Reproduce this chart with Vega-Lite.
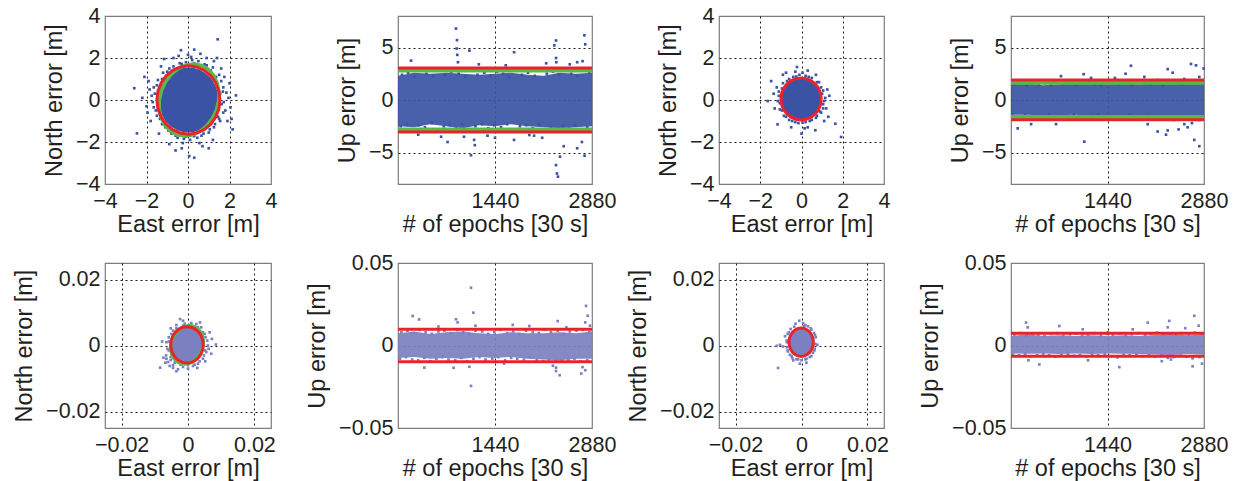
{
"$schema":"https://vega.github.io/schema/vega-lite/v6.json",
"padding":{"left":11,"top":4,"right":5,"bottom":2},
"config":{
 "font":"Liberation Sans",
 "view":{"stroke":"#7d7d7d","strokeWidth":1.2},
 "axis":{"labelFontSize":21.5,"titleFontSize":23.5,"labelColor":"#231f20","titleColor":"#231f20","titleFontWeight":"normal","ticks":false,"tickSize":0,"domain":false,"gridColor":"#1a1a1a","gridDash":[2,3],"gridWidth":1,"labelFlush":false,"labelOverlap":false,"labelFont":"Liberation Sans","titleFont":"Liberation Sans"},
 "axisX":{"labelPadding":6,"titlePadding":1},
 "axisY":{"labelPadding":5,"titlePadding":9}
},
"datasets":{
"c1":[{"x":-1.43,"y":0,"y2":0},{"x":-1.376,"y":0.419,"y2":-0.419},{"x":-1.269,"y":0.71,"y2":-0.71},{"x":-1.054,"y":1.042,"y2":-1.042},{"x":-0.786,"y":1.288,"y2":-1.288},{"x":-0.517,"y":1.44,"y2":-1.44},{"x":-0.248,"y":1.524,"y2":-1.524},{"x":0.02,"y":1.55,"y2":-1.55},{"x":0.288,"y":1.524,"y2":-1.524},{"x":0.557,"y":1.44,"y2":-1.44},{"x":0.826,"y":1.288,"y2":-1.288},{"x":1.094,"y":1.042,"y2":-1.042},{"x":1.309,"y":0.71,"y2":-0.71},{"x":1.416,"y":0.419,"y2":-0.419},{"x":1.47,"y":0,"y2":0}],
"s1":[{"x":1.55,"y":0.3},{"x":1.62,"y":-0.2},{"x":1.7,"y":0.6},{"x":1.45,"y":-0.8},{"x":1.8,"y":-0.5},{"x":1.35,"y":1.1},{"x":1.1,"y":1.4},{"x":0.8,"y":1.7},{"x":0.5,"y":1.85},{"x":0.2,"y":1.9},{"x":-0.1,"y":1.8},{"x":-0.4,"y":1.75},{"x":-0.7,"y":1.6},{"x":-1.0,"y":1.35},{"x":-1.25,"y":1.0},{"x":-1.5,"y":0.7},{"x":-1.6,"y":0.3},{"x":-1.7,"y":-0.1},{"x":-1.55,"y":-0.5},{"x":-1.35,"y":-0.9},{"x":-1.1,"y":-1.3},{"x":-0.8,"y":-1.6},{"x":-0.5,"y":-1.8},{"x":-0.2,"y":-1.85},{"x":0.1,"y":-1.9},{"x":0.45,"y":-1.8},{"x":0.75,"y":-1.6},{"x":1.05,"y":-1.4},{"x":1.3,"y":-1.15},{"x":1.5,"y":-0.9},{"x":2.0,"y":0.8},{"x":1.9,"y":-1.0},{"x":2.15,"y":-1.4},{"x":2.31,"y":0.22},{"x":1.6,"y":1.5},{"x":1.25,"y":1.85},{"x":0.6,"y":2.2},{"x":0.3,"y":2.4},{"x":-0.34,"y":2.37},{"x":-0.7,"y":2.0},{"x":-1.3,"y":1.6},{"x":-1.9,"y":0.9},{"x":-2.59,"y":0.56},{"x":-2.0,"y":-0.3},{"x":-1.8,"y":-1.0},{"x":-2.46,"y":-1.59},{"x":-1.4,"y":-1.6},{"x":-0.9,"y":-2.1},{"x":-0.3,"y":-2.3},{"x":0.06,"y":-2.67},{"x":0.3,"y":-2.75},{"x":0.7,"y":-2.2},{"x":1.2,"y":-1.9},{"x":1.43,"y":2.89},{"x":-1.15,"y":1.95},{"x":1.75,"y":1.1},{"x":0.9,"y":2.0},{"x":-2.2,"y":0.1},{"x":2.05,"y":-0.35},{"x":0.0,"y":2.15},{"x":-0.6,"y":-2.4},{"x":1.0,"y":-2.3},{"x":-1.85,"y":0.5},{"x":1.85,"y":0.35},{"x":1.6,"y":0.9},{"x":1.5,"y":1.2},{"x":1.2,"y":1.55},{"x":0.9,"y":1.65},{"x":0.3,"y":1.75},{"x":-0.3,"y":1.72},{"x":-0.9,"y":1.5},{"x":-1.2,"y":1.3},{"x":-1.45,"y":0.95},{"x":-1.65,"y":0.6},{"x":-1.75,"y":0.2},{"x":-1.65,"y":-0.35},{"x":-1.5,"y":-0.75},{"x":-1.25,"y":-1.15},{"x":-0.95,"y":-1.45},{"x":-0.6,"y":-1.7},{"x":-0.1,"y":-1.75},{"x":0.3,"y":-1.72},{"x":0.65,"y":-1.7},{"x":1.0,"y":-1.55},{"x":1.25,"y":-1.3},{"x":1.55,"y":-1.0},{"x":1.7,"y":-0.6},{"x":1.72,"y":-0.1},{"x":1.68,"y":0.4},{"x":1.95,"y":0.1},{"x":-1.95,"y":-0.6},{"x":0.15,"y":2.05},{"x":-0.25,"y":-2.05},{"x":2.1,"y":-0.9},{"x":-2.1,"y":1.1},{"x":1.4,"y":2.0},{"x":-0.45,"y":2.1},{"x":0.55,"y":-2.05}],
"g1":[{"i":0,"x":1.366,"y":-0.479},{"i":1,"x":1.476,"y":-0.037},{"i":2,"x":1.49,"y":0.408},{"i":3,"x":1.403,"y":0.824},{"i":4,"x":1.227,"y":1.185},{"i":5,"x":0.97,"y":1.465},{"i":6,"x":0.649,"y":1.645},{"i":7,"x":0.288,"y":1.713},{"i":8,"x":-0.089,"y":1.665},{"i":9,"x":-0.457,"y":1.502},{"i":10,"x":-0.79,"y":1.238},{"i":11,"x":-1.066,"y":0.889},{"i":12,"x":-1.266,"y":0.479},{"i":13,"x":-1.376,"y":0.037},{"i":14,"x":-1.39,"y":-0.408},{"i":15,"x":-1.303,"y":-0.824},{"i":16,"x":-1.127,"y":-1.185},{"i":17,"x":-0.87,"y":-1.465},{"i":18,"x":-0.549,"y":-1.645},{"i":19,"x":-0.188,"y":-1.713},{"i":20,"x":0.189,"y":-1.665},{"i":21,"x":0.557,"y":-1.502},{"i":22,"x":0.89,"y":-1.238},{"i":23,"x":1.166,"y":-0.889},{"i":24,"x":1.366,"y":-0.479}],
"r1":[{"i":0,"x":1.54,"y":0},{"i":1,"x":1.488,"y":0.422},{"i":2,"x":1.336,"y":0.815},{"i":3,"x":1.095,"y":1.152},{"i":4,"x":0.78,"y":1.412},{"i":5,"x":0.414,"y":1.575},{"i":6,"x":0.02,"y":1.63},{"i":7,"x":-0.374,"y":1.575},{"i":8,"x":-0.74,"y":1.412},{"i":9,"x":-1.055,"y":1.152},{"i":10,"x":-1.296,"y":0.815},{"i":11,"x":-1.448,"y":0.422},{"i":12,"x":-1.5,"y":0},{"i":13,"x":-1.448,"y":-0.422},{"i":14,"x":-1.296,"y":-0.815},{"i":15,"x":-1.055,"y":-1.152},{"i":16,"x":-0.74,"y":-1.412},{"i":17,"x":-0.374,"y":-1.575},{"i":18,"x":0.02,"y":-1.63},{"i":19,"x":0.414,"y":-1.575},{"i":20,"x":0.78,"y":-1.412},{"i":21,"x":1.095,"y":-1.152},{"i":22,"x":1.336,"y":-0.815},{"i":23,"x":1.488,"y":-0.422},{"i":24,"x":1.54,"y":0}],
"b2":[{"x":0,"y":2.3,"y2":-2.5},{"x":240,"y":2.6,"y2":-2.6},{"x":480,"y":2.5,"y2":-2.3},{"x":720,"y":2.6,"y2":-2.5},{"x":960,"y":2.5,"y2":-2.7},{"x":1200,"y":2.4,"y2":-2.4},{"x":1440,"y":2.5,"y2":-2.5},{"x":1680,"y":2.6,"y2":-2.3},{"x":1920,"y":2.4,"y2":-2.5},{"x":2160,"y":2.3,"y2":-2.6},{"x":2400,"y":2.6,"y2":-2.7},{"x":2640,"y":2.5,"y2":-2.6},{"x":2880,"y":2.6,"y2":-2.5}],
"s2":[{"x":861,"y":6.8},{"x":876,"y":5.7},{"x":870,"y":4.9},{"x":880,"y":4.3},{"x":890,"y":3.6},{"x":1060,"y":4.7},{"x":1084,"y":-5.26},{"x":1130,"y":-3.8},{"x":1140,"y":-4.3},{"x":1723,"y":4.55},{"x":2346,"y":5.67},{"x":2320,"y":5.2},{"x":2346,"y":4.0},{"x":2350,"y":3.6},{"x":2346,"y":-6.2},{"x":2360,"y":-7.0},{"x":2375,"y":-7.3},{"x":2405,"y":-5.4},{"x":2767,"y":6.16},{"x":2780,"y":5.3},{"x":2740,"y":3.7},{"x":2770,"y":-5.3},{"x":2730,"y":-4.0},{"x":2750,"y":-3.0},{"x":193,"y":3.75},{"x":2660,"y":3.6},{"x":1950,"y":-3.33},{"x":2140,"y":-3.6},{"x":2460,"y":-4.4},{"x":2660,"y":-4.6},{"x":640,"y":-3.5},{"x":736,"y":-4.0},{"x":1329,"y":-3.4},{"x":1440,"y":-3.6},{"x":1723,"y":-3.8},{"x":1200,"y":3.4},{"x":1600,"y":3.3},{"x":2200,"y":3.5},{"x":2550,"y":3.4},{"x":300,"y":-3.3},{"x":980,"y":-3.5},{"x":2020,"y":-3.4},{"x":60,"y":2.4},{"x":150,"y":2.6},{"x":250,"y":2.2},{"x":330,"y":2.8},{"x":420,"y":2.5},{"x":520,"y":2.3},{"x":610,"y":2.9},{"x":700,"y":2.4},{"x":790,"y":2.7},{"x":900,"y":2.5},{"x":1000,"y":2.2},{"x":1100,"y":2.8},{"x":1180,"y":2.4},{"x":1280,"y":2.6},{"x":1370,"y":2.3},{"x":1470,"y":2.7},{"x":1560,"y":2.5},{"x":1650,"y":2.2},{"x":1750,"y":2.9},{"x":1840,"y":2.4},{"x":1930,"y":2.6},{"x":2030,"y":2.3},{"x":2120,"y":2.8},{"x":2210,"y":2.5},{"x":2300,"y":2.7},{"x":2390,"y":2.4},{"x":2480,"y":2.9},{"x":2570,"y":2.5},{"x":2660,"y":2.3},{"x":2750,"y":2.8},{"x":2840,"y":2.6},{"x":40,"y":-2.5},{"x":130,"y":-2.3},{"x":230,"y":-2.8},{"x":310,"y":-2.4},{"x":400,"y":-2.6},{"x":500,"y":-2.2},{"x":590,"y":-2.9},{"x":680,"y":-2.5},{"x":770,"y":-2.4},{"x":860,"y":-2.7},{"x":950,"y":-2.3},{"x":1050,"y":-2.8},{"x":1150,"y":-2.5},{"x":1250,"y":-2.3},{"x":1340,"y":-2.7},{"x":1430,"y":-2.4},{"x":1530,"y":-2.6},{"x":1620,"y":-2.3},{"x":1720,"y":-2.8},{"x":1810,"y":-2.5},{"x":1900,"y":-2.4},{"x":2000,"y":-2.7},{"x":2090,"y":-2.3},{"x":2180,"y":-2.9},{"x":2270,"y":-2.6},{"x":2360,"y":-2.8},{"x":2450,"y":-2.5},{"x":2540,"y":-2.7},{"x":2630,"y":-2.4},{"x":2720,"y":-2.9},{"x":2810,"y":-2.6}],
"h2":[{"x":0,"x2":2880,"y":2.8,"c":"g"},{"x":0,"x2":2880,"y":-2.8,"c":"g"},{"x":0,"x2":2880,"y":3.05,"c":"r"},{"x":0,"x2":2880,"y":-3.05,"c":"r"}],
"c3":[{"x":-0.97,"y":0.05,"y2":0.05},{"x":-0.935,"y":0.312,"y2":-0.212},{"x":-0.865,"y":0.494,"y2":-0.394},{"x":-0.724,"y":0.702,"y2":-0.602},{"x":-0.548,"y":0.856,"y2":-0.756},{"x":-0.371,"y":0.951,"y2":-0.851},{"x":-0.196,"y":1.004,"y2":-0.904},{"x":-0.02,"y":1.02,"y2":-0.92},{"x":0.156,"y":1.004,"y2":-0.904},{"x":0.331,"y":0.951,"y2":-0.851},{"x":0.508,"y":0.856,"y2":-0.756},{"x":0.684,"y":0.702,"y2":-0.602},{"x":0.825,"y":0.494,"y2":-0.394},{"x":0.895,"y":0.312,"y2":-0.212},{"x":0.93,"y":0.05,"y2":0.05}],
"s3":[{"x":1.0,"y":0.3},{"x":1.05,"y":-0.2},{"x":0.95,"y":0.6},{"x":0.9,"y":-0.55},{"x":1.2,"y":-0.4},{"x":1.15,"y":0.1},{"x":0.75,"y":0.85},{"x":0.5,"y":1.05},{"x":0.2,"y":1.15},{"x":-0.1,"y":1.2},{"x":-0.4,"y":1.1},{"x":-0.7,"y":0.9},{"x":-0.95,"y":0.55},{"x":-1.1,"y":0.2},{"x":-1.05,"y":-0.15},{"x":-0.95,"y":-0.5},{"x":-0.75,"y":-0.8},{"x":-0.45,"y":-1.0},{"x":-0.15,"y":-1.1},{"x":0.2,"y":-1.05},{"x":0.5,"y":-0.95},{"x":0.75,"y":-0.75},{"x":-1.47,"y":0.9},{"x":-0.22,"y":1.57},{"x":0.0,"y":-1.6},{"x":0.67,"y":-1.44},{"x":-1.16,"y":-1.16},{"x":1.64,"y":-1.13},{"x":1.92,"y":-1.76},{"x":-1.64,"y":-0.05},{"x":-1.2,"y":0.6},{"x":0.3,"y":1.4},{"x":0.7,"y":1.2},{"x":1.3,"y":-0.8},{"x":1.25,"y":0.5},{"x":-0.5,"y":-1.3},{"x":0.3,"y":-1.3},{"x":-0.9,"y":1.2},{"x":-1.3,"y":-0.4},{"x":1.1,"y":-1.0},{"x":-0.3,"y":1.35},{"x":0.05,"y":1.3},{"x":1.05,"y":0.45},{"x":1.1,"y":-0.05},{"x":1.05,"y":-0.4},{"x":0.85,"y":0.85},{"x":0.35,"y":1.1},{"x":-0.25,"y":1.12},{"x":-0.6,"y":1.0},{"x":-0.9,"y":0.8},{"x":-1.1,"y":0.4},{"x":-1.15,"y":-0.05},{"x":-1.05,"y":-0.45},{"x":-0.85,"y":-0.75},{"x":-0.6,"y":-0.95},{"x":-0.3,"y":-1.05},{"x":0.05,"y":-1.08},{"x":0.4,"y":-1.0},{"x":0.7,"y":-0.85},{"x":0.95,"y":-0.6},{"x":-1.35,"y":0.3},{"x":1.35,"y":0.2},{"x":0.15,"y":-1.35},{"x":-0.75,"y":1.3}],
"r3":[{"i":0,"x":0.96,"y":0.05},{"i":1,"x":0.927,"y":0.309},{"i":2,"x":0.829,"y":0.55},{"i":3,"x":0.673,"y":0.757},{"i":4,"x":0.47,"y":0.916},{"i":5,"x":0.234,"y":1.016},{"i":6,"x":-0.02,"y":1.05},{"i":7,"x":-0.274,"y":1.016},{"i":8,"x":-0.51,"y":0.916},{"i":9,"x":-0.713,"y":0.757},{"i":10,"x":-0.869,"y":0.55},{"i":11,"x":-0.967,"y":0.309},{"i":12,"x":-1.0,"y":0.05},{"i":13,"x":-0.967,"y":-0.209},{"i":14,"x":-0.869,"y":-0.45},{"i":15,"x":-0.713,"y":-0.657},{"i":16,"x":-0.51,"y":-0.816},{"i":17,"x":-0.274,"y":-0.916},{"i":18,"x":-0.02,"y":-0.95},{"i":19,"x":0.234,"y":-0.916},{"i":20,"x":0.47,"y":-0.816},{"i":21,"x":0.673,"y":-0.657},{"i":22,"x":0.829,"y":-0.45},{"i":23,"x":0.927,"y":-0.209},{"i":24,"x":0.96,"y":0.05}],
"b4":[{"x":0,"y":1.5,"y2":-1.4},{"x":240,"y":1.6,"y2":-1.4},{"x":480,"y":1.4,"y2":-1.5},{"x":720,"y":1.5,"y2":-1.45},{"x":960,"y":1.55,"y2":-1.4},{"x":1200,"y":1.6,"y2":-1.5},{"x":1440,"y":1.5,"y2":-1.55},{"x":1680,"y":1.55,"y2":-1.45},{"x":1920,"y":1.5,"y2":-1.5},{"x":2160,"y":1.6,"y2":-1.6},{"x":2400,"y":1.65,"y2":-1.55},{"x":2640,"y":1.55,"y2":-1.6},{"x":2880,"y":1.6,"y2":-1.55}],
"s4":[{"x":1790,"y":3.26},{"x":1710,"y":2.5},{"x":1084,"y":2.46},{"x":1195,"y":2.1},{"x":746,"y":2.27},{"x":2338,"y":2.94},{"x":2412,"y":2.6},{"x":2686,"y":3.43},{"x":2760,"y":3.3},{"x":2874,"y":3.0},{"x":1094,"y":-3.97},{"x":2188,"y":-3.0},{"x":2313,"y":-3.3},{"x":2338,"y":-2.9},{"x":2810,"y":-4.4},{"x":2735,"y":-3.8},{"x":100,"y":-2.7},{"x":300,"y":-2.3},{"x":672,"y":-2.3},{"x":2040,"y":-2.3},{"x":2586,"y":-2.3},{"x":2636,"y":-2.6},{"x":1990,"y":2.2},{"x":2190,"y":1.9},{"x":2586,"y":2.0},{"x":2810,"y":2.2},{"x":2835,"y":1.6},{"x":1550,"y":2.1},{"x":2500,"y":-2.8},{"x":2700,"y":-2.2},{"x":50,"y":1.5},{"x":140,"y":1.7},{"x":230,"y":1.4},{"x":320,"y":1.8},{"x":410,"y":1.5},{"x":500,"y":1.6},{"x":600,"y":1.4},{"x":690,"y":1.7},{"x":780,"y":1.5},{"x":880,"y":1.8},{"x":970,"y":1.4},{"x":1060,"y":1.6},{"x":1150,"y":1.7},{"x":1250,"y":1.5},{"x":1340,"y":1.4},{"x":1430,"y":1.8},{"x":1520,"y":1.6},{"x":1620,"y":1.5},{"x":1710,"y":1.7},{"x":1800,"y":1.4},{"x":1900,"y":1.8},{"x":2000,"y":1.6},{"x":2090,"y":1.5},{"x":2180,"y":1.7},{"x":2270,"y":1.4},{"x":2370,"y":1.8},{"x":2460,"y":1.6},{"x":2550,"y":1.5},{"x":2650,"y":1.7},{"x":2740,"y":1.6},{"x":2840,"y":1.8},{"x":30,"y":-1.5},{"x":120,"y":-1.6},{"x":210,"y":-1.4},{"x":300,"y":-1.7},{"x":390,"y":-1.5},{"x":480,"y":-1.8},{"x":570,"y":-1.4},{"x":660,"y":-1.6},{"x":750,"y":-1.5},{"x":850,"y":-1.7},{"x":940,"y":-1.4},{"x":1030,"y":-1.6},{"x":1120,"y":-1.8},{"x":1210,"y":-1.5},{"x":1300,"y":-1.4},{"x":1400,"y":-1.7},{"x":1490,"y":-1.6},{"x":1590,"y":-1.5},{"x":1680,"y":-1.8},{"x":1770,"y":-1.4},{"x":1870,"y":-1.6},{"x":1960,"y":-1.7},{"x":2060,"y":-1.5},{"x":2150,"y":-1.8},{"x":2240,"y":-1.6},{"x":2340,"y":-1.7},{"x":2430,"y":-1.9},{"x":2530,"y":-1.6},{"x":2620,"y":-1.8},{"x":2710,"y":-1.7},{"x":2810,"y":-1.9}],
"h4":[{"x":0,"x2":2880,"y":1.65,"c":"g"},{"x":0,"x2":2880,"y":-1.62,"c":"g"},{"x":0,"x2":2880,"y":1.9,"c":"r"},{"x":0,"x2":2880,"y":-1.88,"c":"r"}],
"c5":[{"x":-0.0051,"y":0.0002,"y2":0.0002},{"x":-0.00492,"y":0.00166,"y2":-0.00126},{"x":-0.00457,"y":0.00267,"y2":-0.00227},{"x":-0.00386,"y":0.00383,"y2":-0.00343},{"x":-0.00297,"y":0.00469,"y2":-0.00429},{"x":-0.00208,"y":0.00522,"y2":-0.00482},{"x":-0.00119,"y":0.00551,"y2":-0.00511},{"x":-0.0003,"y":0.0056,"y2":-0.0052},{"x":0.00059,"y":0.00551,"y2":-0.00511},{"x":0.00148,"y":0.00522,"y2":-0.00482},{"x":0.00237,"y":0.00469,"y2":-0.00429},{"x":0.00326,"y":0.00383,"y2":-0.00343},{"x":0.00397,"y":0.00267,"y2":-0.00227},{"x":0.00432,"y":0.00166,"y2":-0.00126},{"x":0.0045,"y":0.0002,"y2":0.0002}],
"s5":[{"x":-0.0084,"y":-0.0067},{"x":-0.0074,"y":-0.0037},{"x":0.0084,"y":0.0003},{"x":-0.0024,"y":0.008},{"x":0.0036,"y":0.007},{"x":-0.006,"y":-0.005},{"x":-0.0055,"y":-0.0062},{"x":-0.0045,"y":-0.0068},{"x":-0.003,"y":-0.0072},{"x":-0.0015,"y":-0.0065},{"x":0.0,"y":-0.007},{"x":0.0015,"y":-0.0062},{"x":0.003,"y":-0.0055},{"x":0.0045,"y":-0.004},{"x":0.0055,"y":-0.002},{"x":0.006,"y":0.0},{"x":0.0058,"y":0.0015},{"x":0.0062,"y":-0.001},{"x":0.005,"y":0.0035},{"x":0.004,"y":0.0055},{"x":0.0025,"y":0.0065},{"x":0.001,"y":0.0068},{"x":-0.001,"y":0.0066},{"x":-0.0035,"y":0.0062},{"x":-0.0045,"y":0.0045},{"x":-0.0058,"y":0.0025},{"x":-0.0065,"y":0.001},{"x":-0.0062,"y":-0.001},{"x":-0.0066,"y":-0.003},{"x":-0.0052,"y":-0.0044},{"x":0.0072,"y":0.002},{"x":0.007,"y":-0.0025},{"x":-0.0078,"y":0.0012},{"x":-0.0035,"y":-0.0078},{"x":0.0065,"y":0.004},{"x":-0.0015,"y":0.0075},{"x":0.0028,"y":-0.0068},{"x":-0.0068,"y":-0.0052},{"x":0.0052,"y":-0.0048},{"x":-0.0052,"y":0.0052},{"x":0.0053,"y":0.0025},{"x":0.0052,"y":-0.0015},{"x":0.0048,"y":-0.003},{"x":0.0035,"y":-0.0048},{"x":0.002,"y":-0.0058},{"x":0.0,"y":-0.006},{"x":-0.0022,"y":-0.0058},{"x":-0.004,"y":-0.0052},{"x":-0.0052,"y":-0.0035},{"x":-0.0058,"y":-0.0015},{"x":-0.0058,"y":0.0012},{"x":-0.005,"y":0.0035},{"x":-0.0035,"y":0.0052},{"x":-0.0015,"y":0.006},{"x":0.0008,"y":0.0062},{"x":0.003,"y":0.0055},{"x":0.0045,"y":0.004},{"x":-0.0065,"y":-0.004},{"x":-0.0045,"y":-0.006}],
"g5":[{"i":0,"x":0.00417,"y":-0.00143},{"i":1,"x":0.00455,"y":0.00007},{"i":2,"x":0.0046,"y":0.00159},{"i":3,"x":0.0043,"y":0.003},{"i":4,"x":0.0037,"y":0.00423},{"i":5,"x":0.00283,"y":0.00518},{"i":6,"x":0.00174,"y":0.00579},{"i":7,"x":0.00051,"y":0.00602},{"i":8,"x":-0.00077,"y":0.00586},{"i":9,"x":-0.00202,"y":0.00531},{"i":10,"x":-0.00316,"y":0.00441},{"i":11,"x":-0.00409,"y":0.00322},{"i":12,"x":-0.00477,"y":0.00183},{"i":13,"x":-0.00515,"y":0.00033},{"i":14,"x":-0.0052,"y":-0.00119},{"i":15,"x":-0.0049,"y":-0.0026},{"i":16,"x":-0.0043,"y":-0.00383},{"i":17,"x":-0.00343,"y":-0.00478},{"i":18,"x":-0.00234,"y":-0.00539},{"i":19,"x":-0.00111,"y":-0.00562},{"i":20,"x":0.00017,"y":-0.00546},{"i":21,"x":0.00142,"y":-0.00491},{"i":22,"x":0.00256,"y":-0.00401},{"i":23,"x":0.00349,"y":-0.00282},{"i":24,"x":0.00417,"y":-0.00143}],
"r5":[{"i":0,"x":0.0046,"y":0.0002},{"i":1,"x":0.00443,"y":0.00162},{"i":2,"x":0.00394,"y":0.00295},{"i":3,"x":0.00316,"y":0.00409},{"i":4,"x":0.00215,"y":0.00496},{"i":5,"x":0.00097,"y":0.00551},{"i":6,"x":-0.0003,"y":0.0057},{"i":7,"x":-0.00157,"y":0.00551},{"i":8,"x":-0.00275,"y":0.00496},{"i":9,"x":-0.00376,"y":0.00409},{"i":10,"x":-0.00454,"y":0.00295},{"i":11,"x":-0.00503,"y":0.00162},{"i":12,"x":-0.0052,"y":0.0002},{"i":13,"x":-0.00503,"y":-0.00123},{"i":14,"x":-0.00454,"y":-0.00255},{"i":15,"x":-0.00376,"y":-0.00369},{"i":16,"x":-0.00275,"y":-0.00456},{"i":17,"x":-0.00157,"y":-0.00511},{"i":18,"x":-0.0003,"y":-0.0053},{"i":19,"x":0.00097,"y":-0.00511},{"i":20,"x":0.00215,"y":-0.00456},{"i":21,"x":0.00316,"y":-0.00369},{"i":22,"x":0.00394,"y":-0.00255},{"i":23,"x":0.00443,"y":-0.00123},{"i":24,"x":0.0046,"y":0.0002}],
"b6":[{"x":0,"y":0.0075,"y2":-0.0075},{"x":240,"y":0.0085,"y2":-0.007},{"x":480,"y":0.007,"y2":-0.008},{"x":720,"y":0.008,"y2":-0.0075},{"x":960,"y":0.0085,"y2":-0.008},{"x":1200,"y":0.0075,"y2":-0.007},{"x":1440,"y":0.007,"y2":-0.0075},{"x":1680,"y":0.008,"y2":-0.007},{"x":1920,"y":0.0075,"y2":-0.008},{"x":2160,"y":0.0075,"y2":-0.0085},{"x":2400,"y":0.008,"y2":-0.009},{"x":2640,"y":0.0075,"y2":-0.008},{"x":2880,"y":0.0085,"y2":-0.008}],
"s6":[{"x":1084,"y":0.035},{"x":1119,"y":0.0199},{"x":1084,"y":-0.0245},{"x":218,"y":0.0179},{"x":313,"y":0.0158},{"x":861,"y":0.0159},{"x":885,"y":0.014},{"x":826,"y":-0.0135},{"x":1060,"y":-0.0129},{"x":2371,"y":0.0148},{"x":2346,"y":-0.0134},{"x":2346,"y":-0.0155},{"x":2300,"y":-0.0122},{"x":2792,"y":0.024},{"x":2816,"y":0.018},{"x":2780,"y":0.014},{"x":2740,"y":-0.0131},{"x":2780,"y":-0.015},{"x":1703,"y":0.0125},{"x":391,"y":-0.0134},{"x":1574,"y":-0.011},{"x":1950,"y":0.0118},{"x":2500,"y":0.011},{"x":2850,"y":0.012},{"x":2720,"y":-0.017},{"x":2400,"y":-0.018},{"x":1150,"y":0.012},{"x":600,"y":0.0115},{"x":50,"y":0.008},{"x":140,"y":0.009},{"x":230,"y":0.0075},{"x":320,"y":0.0095},{"x":410,"y":0.008},{"x":500,"y":0.007},{"x":600,"y":0.0085},{"x":690,"y":0.009},{"x":780,"y":0.0075},{"x":880,"y":0.0095},{"x":970,"y":0.008},{"x":1060,"y":0.007},{"x":1150,"y":0.009},{"x":1250,"y":0.0085},{"x":1340,"y":0.007},{"x":1430,"y":0.008},{"x":1520,"y":0.0095},{"x":1620,"y":0.0075},{"x":1710,"y":0.0085},{"x":1800,"y":0.007},{"x":1900,"y":0.009},{"x":2000,"y":0.008},{"x":2090,"y":0.0075},{"x":2180,"y":0.0095},{"x":2270,"y":0.008},{"x":2370,"y":0.009},{"x":2460,"y":0.007},{"x":2550,"y":0.0085},{"x":2650,"y":0.009},{"x":2740,"y":0.0095},{"x":2840,"y":0.008},{"x":30,"y":-0.008},{"x":120,"y":-0.007},{"x":210,"y":-0.0085},{"x":300,"y":-0.009},{"x":390,"y":-0.0075},{"x":480,"y":-0.0095},{"x":570,"y":-0.008},{"x":660,"y":-0.007},{"x":750,"y":-0.0085},{"x":850,"y":-0.009},{"x":940,"y":-0.0075},{"x":1030,"y":-0.0095},{"x":1120,"y":-0.008},{"x":1210,"y":-0.007},{"x":1300,"y":-0.0085},{"x":1400,"y":-0.008},{"x":1490,"y":-0.007},{"x":1590,"y":-0.009},{"x":1680,"y":-0.0075},{"x":1770,"y":-0.008},{"x":1870,"y":-0.0085},{"x":1960,"y":-0.007},{"x":2060,"y":-0.009},{"x":2150,"y":-0.0095},{"x":2240,"y":-0.0085},{"x":2340,"y":-0.0095},{"x":2430,"y":-0.009},{"x":2530,"y":-0.0085},{"x":2620,"y":-0.008},{"x":2710,"y":-0.0095},{"x":2810,"y":-0.009}],
"h6":[{"x":0,"x2":2880,"y":0.0098,"c":"r"},{"x":0,"x2":2880,"y":-0.0099,"c":"r"}],
"c7":[{"x":-0.0037,"y":0.001,"y2":0.001},{"x":-0.00357,"y":0.00213,"y2":-0.00013},{"x":-0.0033,"y":0.00292,"y2":-0.00092},{"x":-0.00277,"y":0.00382,"y2":-0.00182},{"x":-0.0021,"y":0.00449,"y2":-0.00249},{"x":-0.00143,"y":0.0049,"y2":-0.0029},{"x":-0.00077,"y":0.00513,"y2":-0.00313},{"x":-0.0001,"y":0.0052,"y2":-0.0032},{"x":0.00057,"y":0.00513,"y2":-0.00313},{"x":0.00123,"y":0.0049,"y2":-0.0029},{"x":0.0019,"y":0.00449,"y2":-0.00249},{"x":0.00257,"y":0.00382,"y2":-0.00182},{"x":0.0031,"y":0.00292,"y2":-0.00092},{"x":0.00337,"y":0.00213,"y2":-0.00013},{"x":0.0035,"y":0.001,"y2":0.001}],
"s7":[{"x":-0.0071,"y":-0.0068},{"x":-0.0075,"y":-0.0001},{"x":-0.0065,"y":0.0002},{"x":-0.0056,"y":-0.0003},{"x":-0.0007,"y":0.0075},{"x":0.0005,"y":0.0068},{"x":-0.0018,"y":0.0066},{"x":0.0012,"y":0.0062},{"x":0.0035,"y":0.0015},{"x":0.0042,"y":0.0005},{"x":0.004,"y":-0.001},{"x":0.0043,"y":0.0025},{"x":0.0038,"y":0.0038},{"x":0.003,"y":0.0048},{"x":-0.0033,"y":0.005},{"x":-0.0042,"y":0.0035},{"x":-0.0045,"y":0.0015},{"x":-0.0044,"y":-0.0005},{"x":-0.0041,"y":-0.0018},{"x":-0.0035,"y":-0.0028},{"x":-0.0028,"y":-0.0038},{"x":-0.0015,"y":-0.0042},{"x":0.0,"y":-0.0045},{"x":0.0012,"y":-0.0042},{"x":0.0025,"y":-0.0035},{"x":0.0035,"y":-0.0022},{"x":-0.0005,"y":-0.0055},{"x":0.0015,"y":-0.0052},{"x":-0.0025,"y":-0.0045},{"x":0.0048,"y":0.0002},{"x":-0.005,"y":0.0028},{"x":0.002,"y":0.0058},{"x":0.0041,"y":0.0032},{"x":0.0039,"y":-0.0015},{"x":0.003,"y":-0.0032},{"x":0.0015,"y":-0.004},{"x":-0.001,"y":-0.0042},{"x":-0.003,"y":-0.0032},{"x":-0.0042,"y":-0.0015},{"x":-0.0044,"y":0.001},{"x":-0.0038,"y":0.004},{"x":-0.0022,"y":0.0057},{"x":0.0008,"y":0.0058},{"x":0.0028,"y":0.0052}],
"r7":[{"i":0,"x":0.0036,"y":0.001},{"i":1,"x":0.00347,"y":0.00211},{"i":2,"x":0.0031,"y":0.00315},{"i":3,"x":0.00252,"y":0.00404},{"i":4,"x":0.00175,"y":0.00472},{"i":5,"x":0.00086,"y":0.00515},{"i":6,"x":-0.0001,"y":0.0053},{"i":7,"x":-0.00106,"y":0.00515},{"i":8,"x":-0.00195,"y":0.00472},{"i":9,"x":-0.00272,"y":0.00404},{"i":10,"x":-0.0033,"y":0.00315},{"i":11,"x":-0.00367,"y":0.00211},{"i":12,"x":-0.0038,"y":0.001},{"i":13,"x":-0.00367,"y":-0.00011},{"i":14,"x":-0.0033,"y":-0.00115},{"i":15,"x":-0.00272,"y":-0.00204},{"i":16,"x":-0.00195,"y":-0.00272},{"i":17,"x":-0.00106,"y":-0.00315},{"i":18,"x":-0.0001,"y":-0.0033},{"i":19,"x":0.00086,"y":-0.00315},{"i":20,"x":0.00175,"y":-0.00272},{"i":21,"x":0.00252,"y":-0.00204},{"i":22,"x":0.0031,"y":-0.00115},{"i":23,"x":0.00347,"y":-0.00011},{"i":24,"x":0.0036,"y":0.001}],
"b8":[{"x":0,"y":0.0058,"y2":-0.0048},{"x":240,"y":0.0068,"y2":-0.005},{"x":480,"y":0.0058,"y2":-0.0048},{"x":720,"y":0.0062,"y2":-0.0052},{"x":960,"y":0.0058,"y2":-0.0048},{"x":1200,"y":0.0062,"y2":-0.0052},{"x":1440,"y":0.0058,"y2":-0.0048},{"x":1680,"y":0.0062,"y2":-0.005},{"x":1920,"y":0.0058,"y2":-0.0052},{"x":2160,"y":0.0064,"y2":-0.0055},{"x":2400,"y":0.0068,"y2":-0.0058},{"x":2640,"y":0.0062,"y2":-0.0052},{"x":2880,"y":0.0066,"y2":-0.0056}],
"s8":[{"x":2735,"y":0.018},{"x":224,"y":0.0139},{"x":249,"y":0.011},{"x":2362,"y":0.0149},{"x":2338,"y":0.011},{"x":2040,"y":0.0139},{"x":1816,"y":0.0098},{"x":1616,"y":-0.0131},{"x":423,"y":-0.0115},{"x":2710,"y":-0.0126},{"x":2387,"y":-0.0085},{"x":721,"y":0.0118},{"x":1071,"y":0.0098},{"x":1443,"y":0.008},{"x":2800,"y":0.012},{"x":2600,"y":0.0105},{"x":2250,"y":-0.0095},{"x":1150,"y":-0.009},{"x":2850,"y":-0.011},{"x":260,"y":-0.009},{"x":50,"y":0.0065},{"x":140,"y":0.0075},{"x":230,"y":0.006},{"x":320,"y":0.007},{"x":410,"y":0.0065},{"x":500,"y":0.0058},{"x":600,"y":0.007},{"x":690,"y":0.0075},{"x":780,"y":0.006},{"x":880,"y":0.0068},{"x":970,"y":0.0072},{"x":1060,"y":0.006},{"x":1150,"y":0.0065},{"x":1250,"y":0.0075},{"x":1340,"y":0.006},{"x":1430,"y":0.007},{"x":1520,"y":0.0065},{"x":1620,"y":0.0072},{"x":1710,"y":0.006},{"x":1800,"y":0.0068},{"x":1900,"y":0.0075},{"x":2000,"y":0.0062},{"x":2090,"y":0.007},{"x":2180,"y":0.0078},{"x":2270,"y":0.0065},{"x":2370,"y":0.0072},{"x":2460,"y":0.0068},{"x":2550,"y":0.0075},{"x":2650,"y":0.0062},{"x":2740,"y":0.0078},{"x":2840,"y":0.007},{"x":30,"y":-0.0055},{"x":120,"y":-0.006},{"x":210,"y":-0.005},{"x":300,"y":-0.0065},{"x":390,"y":-0.0058},{"x":480,"y":-0.005},{"x":570,"y":-0.006},{"x":660,"y":-0.0068},{"x":750,"y":-0.0055},{"x":850,"y":-0.005},{"x":940,"y":-0.0062},{"x":1030,"y":-0.0058},{"x":1120,"y":-0.0068},{"x":1210,"y":-0.0055},{"x":1300,"y":-0.006},{"x":1400,"y":-0.005},{"x":1490,"y":-0.0065},{"x":1590,"y":-0.0072},{"x":1680,"y":-0.0055},{"x":1770,"y":-0.006},{"x":1870,"y":-0.005},{"x":1960,"y":-0.0065},{"x":2060,"y":-0.0058},{"x":2150,"y":-0.0068},{"x":2240,"y":-0.006},{"x":2340,"y":-0.0075},{"x":2430,"y":-0.007},{"x":2530,"y":-0.0062},{"x":2620,"y":-0.0068},{"x":2710,"y":-0.0078},{"x":2810,"y":-0.007}],
"h8":[{"x":0,"x2":2880,"y":0.0075,"c":"r"},{"x":0,"x2":2880,"y":-0.0065,"c":"r"}]
},
"columns":4,
"bounds":"flush",
"align":"each",
"spacing":{"row":79,"column":127},
"concat":[
{"width":166,"height":168,
 "encoding":{
  "x":{"field":"x","type":"quantitative","scale":{"domain":[-4,4],"nice":false,"zero":false},"axis":{"values":[-4,-2,0,2,4],"title":"East error [m]","gridOpacity":{"condition":{"test":"abs(datum.value)>3.9","value":0},"value":1}}},
  "y":{"field":"y","type":"quantitative","scale":{"domain":[-4,4],"nice":false,"zero":false},"axis":{"values":[-4,-2,0,2,4],"title":"North error [m]","gridOpacity":{"condition":{"test":"abs(datum.value)>3.9","value":0},"value":1}}}},
 "layer":[
  {"data":{"name":"c1"},"mark":{"type":"area","color":"#3a53a4","orient":"vertical"},"encoding":{"y2":{"field":"y2"}}},
  {"data":{"name":"s1"},"mark":{"type":"square","color":"#3a53a4","size":7,"opacity":1}},
  {"data":{"name":"g1"},"mark":{"type":"line","color":"#5cb846","strokeWidth":3.5},"encoding":{"order":{"field":"i"}}},
  {"data":{"name":"r1"},"mark":{"type":"line","color":"#e8242a","strokeWidth":3},"encoding":{"order":{"field":"i"}}}]},
{"width":194,"height":168,
 "encoding":{
  "x":{"field":"x","type":"quantitative","scale":{"domain":[0,2880],"nice":false,"zero":false},"axis":{"values":[1440,2880],"format":"d","title":"# of epochs [30 s]","gridOpacity":{"condition":{"test":"datum.value>2870","value":0},"value":1}}},
  "y":{"field":"y","type":"quantitative","scale":{"domain":[-8,8],"nice":false,"zero":false},"axis":{"values":[-5,0,5],"title":"Up error [m]"}}},
 "layer":[
  {"data":{"name":"b2"},"mark":{"type":"area","color":"#3a53a4","orient":"vertical","opacity":0.92},"encoding":{"y2":{"field":"y2"}}},
  {"data":{"name":"s2"},"mark":{"type":"square","color":"#3a53a4","size":7,"opacity":1}},
  {"data":{"name":"h2"},"transform":[{"filter":"datum.c=='g'"}],"mark":{"type":"rule","color":"#5cb846","strokeWidth":4},"encoding":{"x2":{"field":"x2"}}},
  {"data":{"name":"h2"},"transform":[{"filter":"datum.c=='r'"}],"mark":{"type":"rule","color":"#e8242a","strokeWidth":3},"encoding":{"x2":{"field":"x2"}}}]},
{"width":165,"height":168,
 "encoding":{
  "x":{"field":"x","type":"quantitative","scale":{"domain":[-4,4],"nice":false,"zero":false},"axis":{"values":[-4,-2,0,2,4],"title":"East error [m]","gridOpacity":{"condition":{"test":"abs(datum.value)>3.9","value":0},"value":1}}},
  "y":{"field":"y","type":"quantitative","scale":{"domain":[-4,4],"nice":false,"zero":false},"axis":{"values":[-4,-2,0,2,4],"title":"North error [m]","gridOpacity":{"condition":{"test":"abs(datum.value)>3.9","value":0},"value":1}}}},
 "layer":[
  {"data":{"name":"c3"},"mark":{"type":"area","color":"#3a53a4","orient":"vertical"},"encoding":{"y2":{"field":"y2"}}},
  {"data":{"name":"s3"},"mark":{"type":"square","color":"#3a53a4","size":7,"opacity":1}},
  {"data":{"name":"r3"},"mark":{"type":"line","color":"#e8242a","strokeWidth":3},"encoding":{"order":{"field":"i"}}}]},
{"width":193,"height":168,
 "encoding":{
  "x":{"field":"x","type":"quantitative","scale":{"domain":[0,2880],"nice":false,"zero":false},"axis":{"values":[1440,2880],"format":"d","title":"# of epochs [30 s]","gridOpacity":{"condition":{"test":"datum.value>2870","value":0},"value":1}}},
  "y":{"field":"y","type":"quantitative","scale":{"domain":[-8,8],"nice":false,"zero":false},"axis":{"values":[-5,0,5],"title":"Up error [m]"}}},
 "layer":[
  {"data":{"name":"b4"},"mark":{"type":"area","color":"#3a53a4","orient":"vertical","opacity":0.92},"encoding":{"y2":{"field":"y2"}}},
  {"data":{"name":"s4"},"mark":{"type":"square","color":"#3a53a4","size":7,"opacity":1}},
  {"data":{"name":"h4"},"transform":[{"filter":"datum.c=='g'"}],"mark":{"type":"rule","color":"#5cb846","strokeWidth":4},"encoding":{"x2":{"field":"x2"}}},
  {"data":{"name":"h4"},"transform":[{"filter":"datum.c=='r'"}],"mark":{"type":"rule","color":"#e8242a","strokeWidth":3},"encoding":{"x2":{"field":"x2"}}}]},
{"width":166,"height":165,
 "encoding":{
  "x":{"field":"x","type":"quantitative","scale":{"domain":[-0.025,0.025],"nice":false,"zero":false},"axis":{"values":[-0.02,0,0.02],"format":"~g","title":"East error [m]"}},
  "y":{"field":"y","type":"quantitative","scale":{"domain":[-0.025,0.025],"nice":false,"zero":false},"axis":{"values":[-0.02,0,0.02],"format":"~g","title":"North error [m]"}}},
 "layer":[
  {"data":{"name":"c5"},"mark":{"type":"area","color":"#7b80c0","orient":"vertical"},"encoding":{"y2":{"field":"y2"}}},
  {"data":{"name":"s5"},"mark":{"type":"square","color":"#7b80c0","size":7,"opacity":1}},
  {"data":{"name":"g5"},"mark":{"type":"line","color":"#5cb846","strokeWidth":3.5},"encoding":{"order":{"field":"i"}}},
  {"data":{"name":"r5"},"mark":{"type":"line","color":"#e8242a","strokeWidth":3},"encoding":{"order":{"field":"i"}}}]},
{"width":194,"height":165,
 "encoding":{
  "x":{"field":"x","type":"quantitative","scale":{"domain":[0,2880],"nice":false,"zero":false},"axis":{"values":[1440,2880],"format":"d","title":"# of epochs [30 s]","gridOpacity":{"condition":{"test":"datum.value>2870","value":0},"value":1}}},
  "y":{"field":"y","type":"quantitative","scale":{"domain":[-0.05,0.05],"nice":false,"zero":false},"axis":{"values":[-0.05,0,0.05],"format":"~g","title":"Up error [m]","gridOpacity":{"condition":{"test":"abs(datum.value)>0.049","value":0},"value":1}}}},
 "layer":[
  {"data":{"name":"b6"},"mark":{"type":"area","color":"#7b80c0","orient":"vertical","opacity":0.92},"encoding":{"y2":{"field":"y2"}}},
  {"data":{"name":"s6"},"mark":{"type":"square","color":"#7b80c0","size":7,"opacity":1}},
  {"data":{"name":"h6"},"mark":{"type":"rule","color":"#e8242a","strokeWidth":3},"encoding":{"x2":{"field":"x2"}}}]},
{"width":165,"height":165,
 "encoding":{
  "x":{"field":"x","type":"quantitative","scale":{"domain":[-0.025,0.025],"nice":false,"zero":false},"axis":{"values":[-0.02,0,0.02],"format":"~g","title":"East error [m]"}},
  "y":{"field":"y","type":"quantitative","scale":{"domain":[-0.025,0.025],"nice":false,"zero":false},"axis":{"values":[-0.02,0,0.02],"format":"~g","title":"North error [m]"}}},
 "layer":[
  {"data":{"name":"c7"},"mark":{"type":"area","color":"#7b80c0","orient":"vertical"},"encoding":{"y2":{"field":"y2"}}},
  {"data":{"name":"s7"},"mark":{"type":"square","color":"#7b80c0","size":7,"opacity":1}},
  {"data":{"name":"r7"},"mark":{"type":"line","color":"#e8242a","strokeWidth":3},"encoding":{"order":{"field":"i"}}}]},
{"width":193,"height":165,
 "encoding":{
  "x":{"field":"x","type":"quantitative","scale":{"domain":[0,2880],"nice":false,"zero":false},"axis":{"values":[1440,2880],"format":"d","title":"# of epochs [30 s]","gridOpacity":{"condition":{"test":"datum.value>2870","value":0},"value":1}}},
  "y":{"field":"y","type":"quantitative","scale":{"domain":[-0.05,0.05],"nice":false,"zero":false},"axis":{"values":[-0.05,0,0.05],"format":"~g","title":"Up error [m]","gridOpacity":{"condition":{"test":"abs(datum.value)>0.049","value":0},"value":1}}}},
 "layer":[
  {"data":{"name":"b8"},"mark":{"type":"area","color":"#7b80c0","orient":"vertical","opacity":0.92},"encoding":{"y2":{"field":"y2"}}},
  {"data":{"name":"s8"},"mark":{"type":"square","color":"#7b80c0","size":7,"opacity":1}},
  {"data":{"name":"h8"},"mark":{"type":"rule","color":"#e8242a","strokeWidth":3},"encoding":{"x2":{"field":"x2"}}}]}
]
}
